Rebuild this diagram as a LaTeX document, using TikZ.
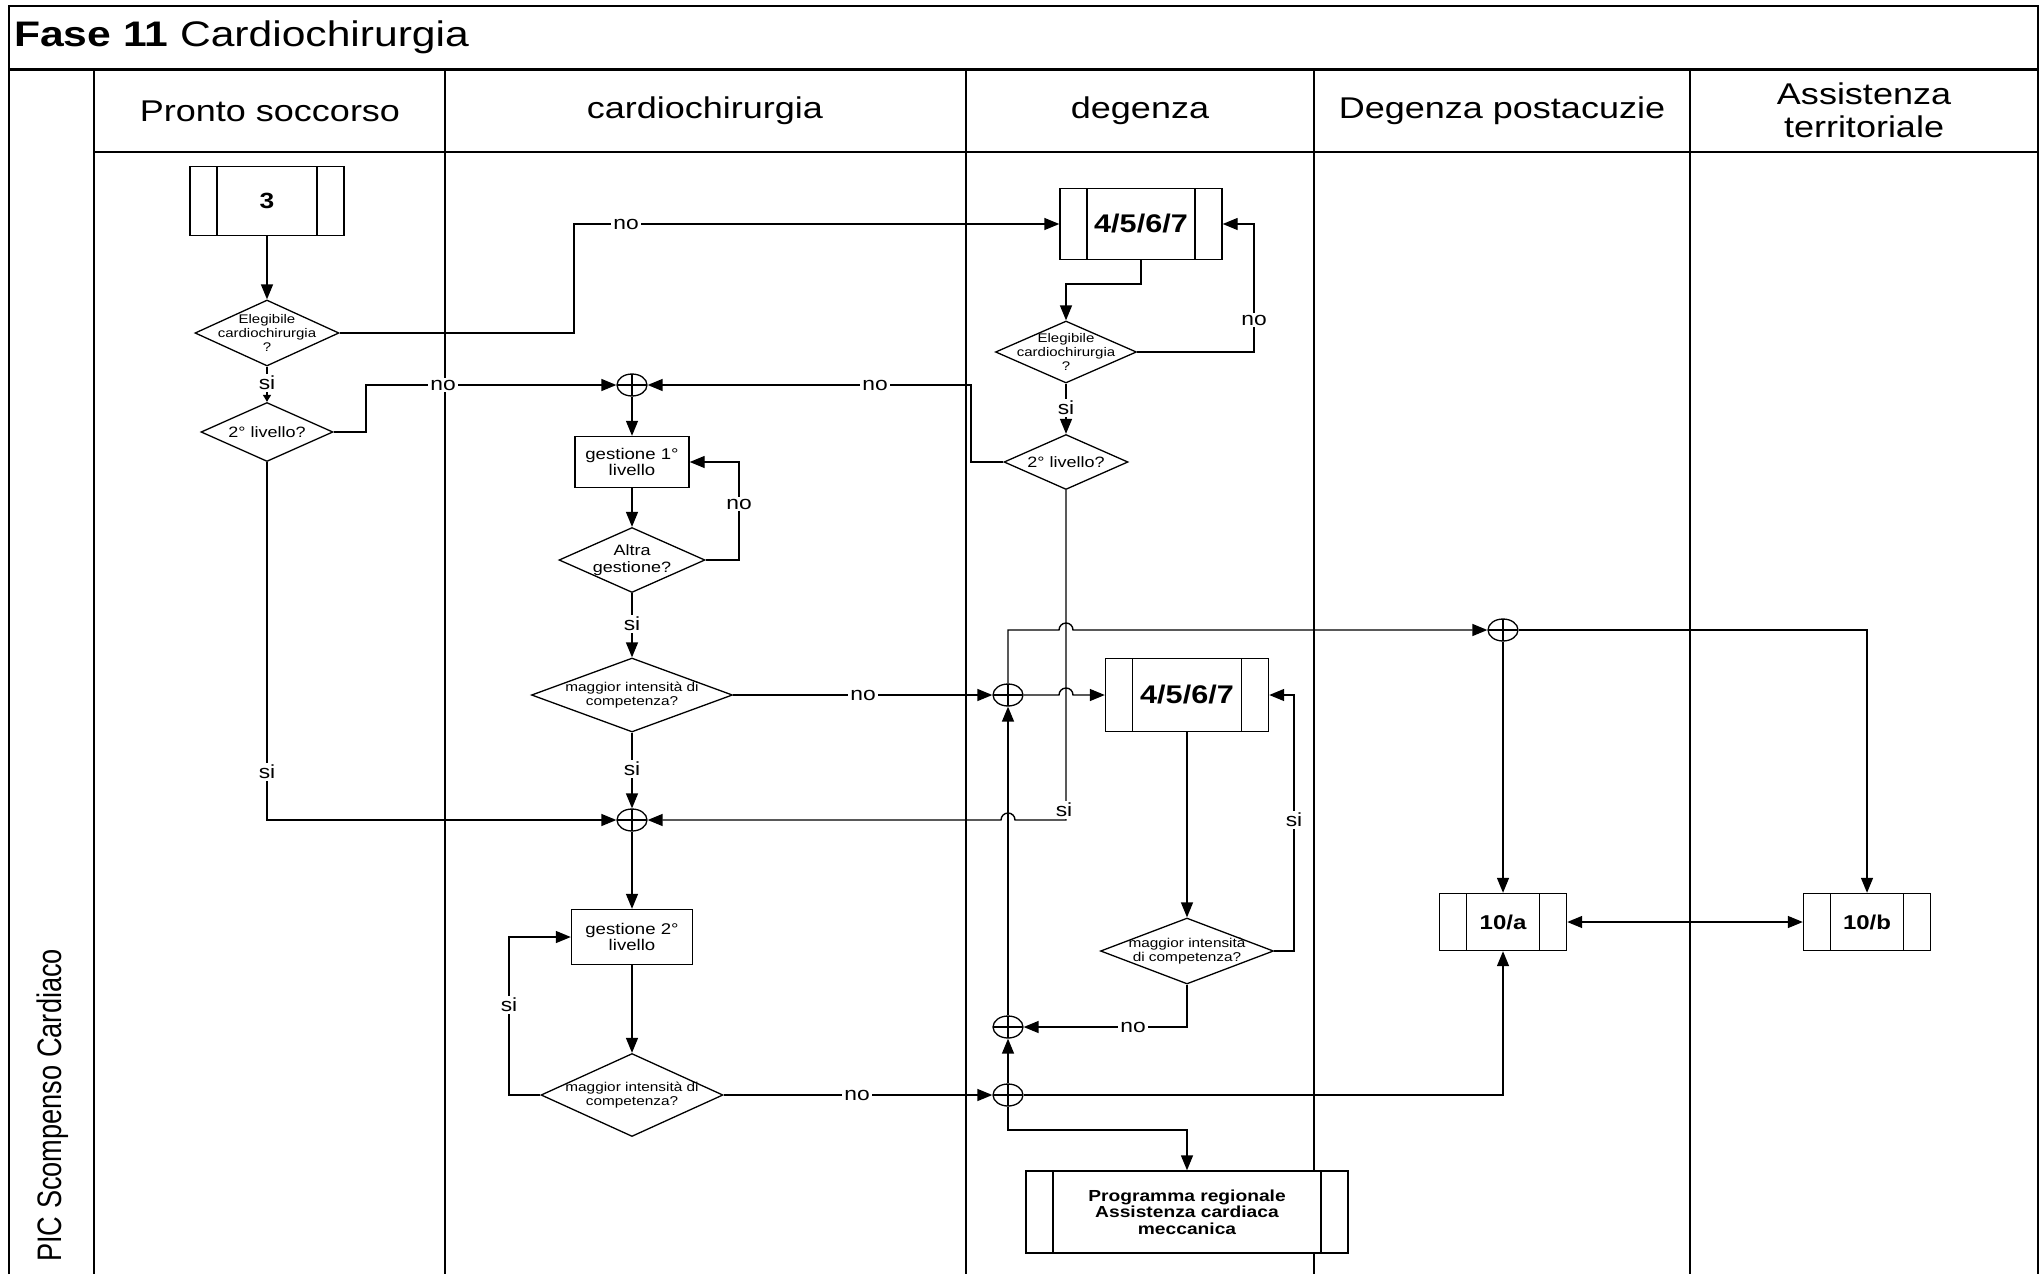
\documentclass[tikz,border=0pt]{standalone}
\usepackage{fontspec}
\setmainfont{Liberation Sans}[FakeStretch=1.2]
\newfontfamily\picfont{Liberation Sans}[FakeStretch=0.8]
\usetikzlibrary{arrows.meta,shapes.geometric}
\tikzset{
  conn/.style={line width=1.4pt, -{Triangle[length=15pt,width=12pt]}},
  plainline/.style={line width=1.4pt},
  lbl/.style={fill=white, inner sep=2pt, font=\fontsize{19}{19}\selectfont},
  dia/.style={diamond, draw, line width=1.3pt, inner sep=0pt, fill=white},
  dtxt/.style={align=center, inner sep=0pt},
  proc/.style={draw, line width=1.4pt, fill=white, inner sep=0pt, align=center,
    path picture={\draw[line width=1.4pt]
      ([xshift=27pt]path picture bounding box.north west) -- ([xshift=27pt]path picture bounding box.south west)
      ([xshift=-27pt]path picture bounding box.north east) -- ([xshift=-27pt]path picture bounding box.south east);}},
  stepbox/.style={draw, line width=1.4pt, fill=white, inner sep=0pt, align=center,
    font=\fontsize{15.5}{16.3}\selectfont},
  junc/.style={ellipse, draw, line width=1.3pt, minimum width=30pt, minimum height=22pt,
    inner sep=0pt, fill=white,
    path picture={\draw[line width=1.3pt]
      (path picture bounding box.north) -- (path picture bounding box.south)
      (path picture bounding box.west) -- (path picture bounding box.east);}},
  lane/.style={line width=2.5pt},
  hdr/.style={font=\fontsize{30}{33}\selectfont, align=center},
}
\begin{document}
\begin{tikzpicture}[x=1pt,y=-1pt]
\useasboundingbox (0,0) rectangle (2044,1274);
\fill[white] (0,0) rectangle (2044,1274);
% frame
\draw[line width=2.5pt] (9,1274) -- (9,6) -- (2038,6) -- (2038,1274);
\draw[line width=3pt] (9,69) -- (2038,69);
\draw[lane] (94,152) -- (2038,152);
\draw[line width=2.8pt] (94,69) -- (94,1274);
\draw[lane] (445,69) -- (445,1274);
\draw[lane] (966,69) -- (966,1274);
\draw[lane] (1314,69) -- (1314,1274);
\draw[lane] (1690,69) -- (1690,1274);
% titles
\node[anchor=west, inner sep=0pt, font=\fontsize{35.5}{36}\selectfont] (title) at (14,37) {\textbf{Fase 11} Cardiochirurgia};
\node[hdr] (h1) at (270,111) {Pronto soccorso};
\node[hdr] (h2) at (705,111) {cardiochirurgia};
\node[hdr] (h3) at (1140,111) {degenza};
\node[hdr] (h4) at (1502,111) {Degenza postacuzie};
\node[hdr] (h5) at (1864,110) {Assistenza\\territoriale};
\node[rotate=90, anchor=west, inner sep=0pt, font=\picfont\fontsize{34}{34}\selectfont] (pic) at (53,1262) {PIC Scompenso Cardiaco};

% process boxes
\node[proc, minimum width=154pt, minimum height=69pt, font=\bfseries\fontsize{22}{22}\selectfont] (p3) at (267,201) {3};
\node[proc, minimum width=162pt, minimum height=71pt, font=\bfseries\fontsize{25.5}{25.5}\selectfont] (pA) at (1141,224) {4/5/6/7};
\node[proc, minimum width=163pt, minimum height=73pt, font=\bfseries\fontsize{25.5}{25.5}\selectfont] (pB) at (1187,695) {4/5/6/7};
\node[proc, minimum width=127pt, minimum height=57pt, font=\bfseries\fontsize{20}{20}\selectfont] (p10a) at (1503,922) {10/a};
\node[proc, minimum width=127pt, minimum height=57pt, font=\bfseries\fontsize{20}{20}\selectfont] (p10b) at (1867,922) {10/b};
\node[proc, minimum width=322pt, minimum height=82pt, font=\bfseries\fontsize{16}{16.4}\selectfont] (pProg) at (1187,1212) {Programma regionale\\Assistenza cardiaca\\meccanica};
\node[stepbox, minimum width=114pt, minimum height=51pt] (g1) at (632,462) {gestione 1°\\livello};
\node[stepbox, minimum width=121pt, minimum height=55pt] (g2) at (632,937) {gestione 2°\\livello};

% diamonds
\node[dia, minimum width=144pt, minimum height=66pt] (d1) at (267,333) {};
\node[dtxt, font=\fontsize{12.5}{14}\selectfont] (d1t) at (d1) {Elegibile\\cardiochirurgia\\?};
\node[dia, minimum width=132pt, minimum height=59pt] (d2) at (267,432) {};
\node[dtxt, font=\fontsize{15}{16}\selectfont] (d2t) at (d2) {2° livello?};
\node[dia, minimum width=146pt, minimum height=65pt] (d3) at (632,560) {};
\node[dtxt, font=\fontsize{15}{16.5}\selectfont] (d3t) at (d3) {Altra\\gestione?};
\node[dia, minimum width=201pt, minimum height=74pt] (d4) at (632,695) {};
\node[dtxt, font=\fontsize{12.8}{14.3}\selectfont] (d4t) at (d4) {maggior intensità di\\competenza?};
\node[dia, minimum width=182pt, minimum height=83pt] (d5) at (632,1095) {};
\node[dtxt, font=\fontsize{12.8}{14.3}\selectfont] (d5t) at (d5) {maggior intensità di\\competenza?};
\node[dia, minimum width=141pt, minimum height=62pt] (d6) at (1066,352) {};
\node[dtxt, font=\fontsize{12.5}{14}\selectfont] (d6t) at (d6) {Elegibile\\cardiochirurgia\\?};
\node[dia, minimum width=124pt, minimum height=55pt] (d7) at (1066,462) {};
\node[dtxt, font=\fontsize{15}{16}\selectfont] (d7t) at (d7) {2° livello?};
\node[dia, minimum width=173pt, minimum height=66pt] (d8) at (1187,951) {};
\node[dtxt, font=\fontsize{12.8}{14.3}\selectfont] (d8t) at (d8) {maggior intensità\\di competenza?};

% junctions
\node[junc] (j1) at (632,385) {};
\node[junc] (j2) at (632,820) {};
\node[junc] (j3) at (1008,695) {};
\node[junc] (j4) at (1503,630) {};
\node[junc] (j5) at (1008,1027) {};
\node[junc] (j6) at (1008,1095) {};

% connectors
\draw[conn] (p3) -- (d1);
\draw[plainline, -{Triangle[length=7pt,width=8pt]}] (d1) -- (d2);
\draw[conn] (d1.east) -- (574,333) -- (574,224) -- (pA.west);
\draw[conn] (d2.east) -- (366,432) -- (366,385) -- (j1.west);
\draw[conn] (d2.south) -- (267,820) -- (j2.west);
\draw[conn] (j1) -- (g1);
\draw[conn] (g1) -- (d3);
\draw[conn] (d3.east) -- (739,560) -- (739,462) -- (g1.east);
\draw[conn] (d3) -- (d4);
\draw[conn] (d4.east) -- (j3.west);
\draw[conn] (d4) -- (j2);
\draw[conn] (j2) -- (g2);
\draw[conn] (g2) -- (d5);
\draw[conn] (d5.west) -- (509,1095) -- (509,937) -- (g2.west);
\draw[conn] (d5.east) -- (j6.west);
\draw[conn] (pA.south) -- (1141,284) -- (1066,284) -- (d6.north);
\draw[conn] (d6.east) -- (1254,352) -- (1254,224) -- (pA.east);
\draw[conn] (d6) -- (d7);
\draw[conn] (d7.west) -- (971,462) -- (971,385) -- (j1.east);
\draw[conn] (d7.south) -- (1066,820) -- (1015,820) arc[start angle=0,end angle=180,radius=7pt] -- (j2.east);
\draw[conn] (j3.east) -- (1059,695) arc[start angle=180,end angle=0,radius=7pt] -- (pB.west);
\draw[conn] (j3.north) -- (1008,630) -- (1059,630) arc[start angle=180,end angle=0,radius=7pt] -- (j4.west);
\draw[conn] (j5) -- (j3);
\draw[conn] (pB) -- (d8);
\draw[conn] (d8.east) -- (1294,951) -- (1294,695) -- (pB.east);
\draw[conn] (d8.south) -- (1187,1027) -- (j5.east);
\draw[conn] (j6) -- (j5);
\draw[conn] (j6.east) -- (1503,1095) -- (p10a.south);
\draw[conn] (j6.south) -- (1008,1130) -- (1187,1130) -- (pProg.north);
\draw[conn] (j4) -- (p10a);
\draw[conn] (j4.east) -- (1867,630) -- (p10b.north);
\draw[plainline, {Triangle[length=15pt,width=12pt]}-{Triangle[length=15pt,width=12pt]}] (p10a) -- (p10b);

% labels
\node[lbl] (l1) at (267,383) {si};
\node[lbl] (l2) at (626,224) {no};
\node[lbl] (l3) at (443,385) {no};
\node[lbl] (l4) at (267,772) {si};
\node[lbl] (l5) at (739,504) {no};
\node[lbl] (l6) at (632,624) {si};
\node[lbl] (l7) at (863,695) {no};
\node[lbl] (l8) at (632,769) {si};
\node[lbl] (l9) at (509,1005) {si};
\node[lbl] (l10) at (857,1095) {no};
\node[lbl] (l11) at (1254,320) {no};
\node[lbl] (l12) at (1066,408) {si};
\node[lbl] (l13) at (875,385) {no};
\node[lbl] (l14) at (1064,810) {si};
\node[lbl] (l15) at (1294,820) {si};
\node[lbl] (l16) at (1133,1027) {no};
\end{tikzpicture}
\end{document}
